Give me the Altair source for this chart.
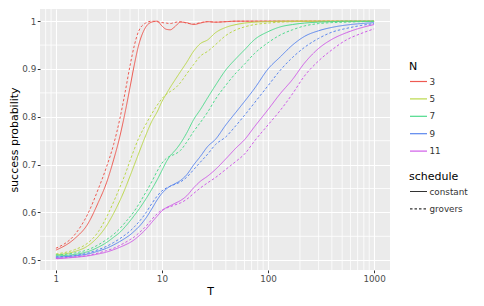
import altair as alt
import pandas as pd

T_values = [1, 1.5, 2, 2.5, 3, 3.5, 4, 4.5, 5, 5.5, 6, 7, 8, 9, 10, 11, 12, 13, 15, 17,
            20, 23, 27, 32, 40, 50, 60, 75, 100, 130, 170, 220, 300, 400, 550, 750, 1000]

N3_constant = [0.521, 0.545, 0.576, 0.62, 0.662, 0.71, 0.758, 0.81, 0.862, 0.91, 0.948, 0.987, 0.998, 1.0,
               0.99, 0.983, 0.982, 0.987, 0.998, 0.997, 0.993, 0.996, 0.999, 0.998, 0.999, 1.0, 1.0, 1.0,
               1.0, 1.0, 1.0, 1.0, 1.0, 1.0, 1.0, 1.0, 1.0]
N3_grovers = [0.525, 0.553, 0.597, 0.648, 0.695, 0.742, 0.795, 0.852, 0.907, 0.95, 0.978, 0.996, 1.0, 0.999,
              0.997, 0.996, 0.995, 0.997, 0.999, 0.996, 0.994, 0.997, 0.999, 0.998, 0.999, 1.0, 1.0, 1.0,
              1.0, 1.0, 1.0, 1.0, 1.0, 1.0, 1.0, 1.0, 1.0]
N5_constant = [0.511, 0.518, 0.530, 0.549, 0.572, 0.598, 0.624, 0.65, 0.676, 0.7, 0.722, 0.76, 0.79, 0.81,
               0.832, 0.848, 0.862, 0.874, 0.895, 0.913, 0.938, 0.953, 0.961, 0.976, 0.987, 0.993, 0.996,
               0.998, 0.999, 1.0, 1.0, 1.0, 1.0, 1.0, 1.0, 1.0, 1.0]
N5_grovers = [0.513, 0.522, 0.536, 0.559, 0.59, 0.622, 0.652, 0.68, 0.708, 0.733, 0.754, 0.783, 0.806, 0.824,
              0.838, 0.847, 0.853, 0.858, 0.872, 0.889, 0.91, 0.927, 0.937, 0.951, 0.97, 0.982, 0.988,
              0.993, 0.996, 0.998, 0.999, 1.0, 1.0, 1.0, 1.0, 1.0, 1.0]
N7_constant = [0.509, 0.512, 0.518, 0.527, 0.537, 0.548, 0.558, 0.57, 0.582, 0.594, 0.605, 0.627, 0.648, 0.668,
               0.688, 0.706, 0.719, 0.727, 0.745, 0.765, 0.795, 0.815, 0.84, 0.866, 0.898, 0.922, 0.94,
               0.962, 0.978, 0.988, 0.993, 0.996, 0.998, 0.999, 1.0, 1.0, 1.0]
N7_grovers = [0.511, 0.515, 0.522, 0.532, 0.543, 0.554, 0.566, 0.579, 0.591, 0.603, 0.616, 0.641, 0.664, 0.686,
              0.703, 0.713, 0.718, 0.721, 0.73, 0.746, 0.77, 0.788, 0.81, 0.837, 0.866, 0.892, 0.91,
              0.933, 0.955, 0.971, 0.982, 0.99, 0.995, 0.997, 0.998, 0.999, 1.0]
N9_constant = [0.506, 0.509, 0.513, 0.519, 0.525, 0.532, 0.539, 0.546, 0.553, 0.561, 0.569, 0.587, 0.607, 0.626,
               0.64, 0.649, 0.655, 0.659, 0.667, 0.678, 0.7, 0.717, 0.738, 0.753, 0.783, 0.81, 0.832,
               0.86, 0.9, 0.925, 0.95, 0.968, 0.98, 0.987, 0.992, 0.995, 0.997]
N9_grovers = [0.507, 0.51, 0.515, 0.522, 0.529, 0.537, 0.545, 0.553, 0.561, 0.57, 0.579, 0.598, 0.618, 0.634,
              0.645, 0.651, 0.655, 0.658, 0.664, 0.673, 0.69, 0.705, 0.722, 0.742, 0.758, 0.782, 0.803,
              0.83, 0.865, 0.897, 0.924, 0.945, 0.964, 0.977, 0.985, 0.991, 0.995]
N11_constant = [0.503, 0.506, 0.509, 0.513, 0.517, 0.522, 0.527, 0.532, 0.537, 0.543, 0.55, 0.564, 0.579, 0.592,
                0.603, 0.61, 0.614, 0.618, 0.625, 0.634, 0.652, 0.665, 0.676, 0.69, 0.712, 0.735, 0.752,
                0.78, 0.815, 0.848, 0.878, 0.912, 0.943, 0.962, 0.976, 0.986, 0.993]
N11_grovers = [0.504, 0.507, 0.51, 0.515, 0.52, 0.525, 0.531, 0.537, 0.543, 0.549, 0.556, 0.57, 0.585, 0.597,
               0.605, 0.609, 0.612, 0.615, 0.62, 0.627, 0.64, 0.651, 0.662, 0.673, 0.69, 0.707, 0.722,
               0.75, 0.783, 0.813, 0.848, 0.885, 0.917, 0.94, 0.961, 0.974, 0.984]

N_levels = ["3", "5", "7", "9", "11"]
N_colors = ["#EE5A52", "#BBD84A", "#4EDB8C", "#5A86EE", "#D05CE8"]
schedules = ["constant", "grovers"]

series = {
    ("3", "constant"): N3_constant, ("3", "grovers"): N3_grovers,
    ("5", "constant"): N5_constant, ("5", "grovers"): N5_grovers,
    ("7", "constant"): N7_constant, ("7", "grovers"): N7_grovers,
    ("9", "constant"): N9_constant, ("9", "grovers"): N9_grovers,
    ("11", "constant"): N11_constant, ("11", "grovers"): N11_grovers,
}

rows = []
for (n, s), vals in series.items():
    for t, v in zip(T_values, vals):
        rows.append({"T": t, "p": v, "N": n, "schedule": s})
df = pd.DataFrame(rows)

x_major = [1, 10, 100, 1000]
x_minor = [0.8, 0.9, 2, 3, 4, 5, 6, 7, 8, 9, 20, 30, 40, 50, 60, 70, 80, 90,
           200, 300, 400, 500, 600, 700, 800, 900]
y_major = [0.5, 0.6, 0.7, 0.8, 0.9, 1.0]
y_minor = [0.55, 0.65, 0.75, 0.85, 0.95]

x_scale = alt.Scale(type="log", domain=[0.708, 1413], nice=False)
y_scale = alt.Scale(domain=[0.4795, 1.0255], nice=False, zero=False)

x_axis = alt.Axis(values=x_major, format="d", grid=True, gridColor="white", gridWidth=1.1,
                  domain=False, tickColor="#333333", tickSize=2.75, tickWidth=1,
                  labelColor="#4D4D4D", labelFontSize=8.8, labelPadding=2,
                  title="T", titleFontSize=11, titleFontWeight="normal", titleColor="black",
                  titlePadding=2, titleX=170)
y_axis = alt.Axis(values=y_major, labelExpr="datum.value == 1 ? '1' : format(datum.value, '.1f')",
                  grid=True, gridColor="white", gridWidth=1.1,
                  domain=False, tickColor="#333333", tickSize=2.75, tickWidth=1,
                  labelColor="#4D4D4D", labelFontSize=8.8, labelPadding=1.5,
                  title="success probability", titleFontSize=11, titleFontWeight="normal",
                  titleColor="black", titleX=-23, titleY=130.5, titleBaseline="alphabetic")

xminor_df = pd.DataFrame({"T": x_minor})
yminor_df = pd.DataFrame({"p": y_minor})

vminor = alt.Chart(xminor_df).mark_rule(color="white", strokeWidth=0.8).encode(
    x=alt.X("T:Q", scale=x_scale, axis=x_axis)
)
hminor = alt.Chart(yminor_df).mark_rule(color="white", strokeWidth=0.8).encode(
    y=alt.Y("p:Q", scale=y_scale, axis=y_axis)
)

legend_common = dict(orient="none", legendX=369, symbolType="stroke", symbolSize=289,
                     symbolStrokeWidth=1.2, titleFontSize=11, titleFontWeight="normal",
                     titleColor="black", titlePadding=0, labelFontSize=8.8, labelColor="#333333",
                     labelOffset=1.5, rowPadding=2.4)

lines = alt.Chart(df).mark_line(strokeWidth=1, interpolate="monotone").encode(
    x=alt.X("T:Q", scale=x_scale, axis=x_axis),
    y=alt.Y("p:Q", scale=y_scale, axis=y_axis),
    color=alt.Color("N:N", sort=N_levels,
                    scale=alt.Scale(domain=N_levels, range=N_colors),
                    legend=alt.Legend(title="N", legendY=52, **legend_common)),
    strokeDash=alt.StrokeDash("schedule:N",
                              scale=alt.Scale(domain=schedules, range=[[1, 0], [2.5, 2]]),
                              legend=alt.Legend(title="schedule", legendY=162,
                                                symbolStrokeColor="#333333", **legend_common)),
    detail="N:N",
)

chart = alt.layer(vminor, hminor, lines).properties(
    width=350, height=261,
    autosize=alt.AutoSizeParams(type="none"),
    padding={"left": 32, "top": 1, "right": 84, "bottom": 28},
).configure(font="DejaVu Sans").configure_view(fill="#EBEBEB", strokeWidth=0)

chart.save("out.html", embed_options={"renderer": "svg", "actions": False})
